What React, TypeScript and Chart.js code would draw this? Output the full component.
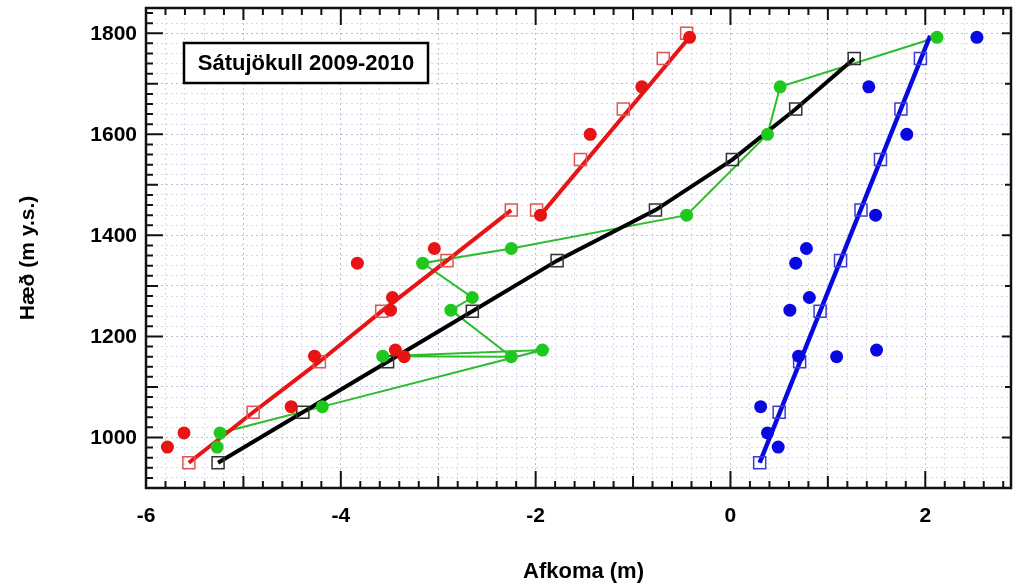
import React, { useEffect, useRef } from 'react';
import { Chart, registerables } from 'chart.js';

Chart.register(...registerables);

// Stake measurements (elevation m y.s.) and balances (m)
const stakeElev = [1792, 1694, 1600, 1440, 1374, 1345, 1277, 1252, 1160, 1161, 1173, 1061, 1009, 981];
const winterBal = [2.53, 1.42, 1.81, 1.49, 0.78, 0.67, 0.81, 0.61, 1.09, 0.70, 1.50, 0.31, 0.38, 0.49];
const summerBal = [-0.42, -0.91, -1.44, -1.95, -3.04, -3.83, -3.47, -3.49, -3.35, -4.27, -3.44, -4.51, -5.61, -5.78];
const netBal = [2.12, 0.51, 0.38, -0.45, -2.25, -3.16, -2.65, -2.87, -2.25, -3.57, -1.93, -4.19, -5.24, -5.27];

// 100 m band values (open squares)
const bandElev = [950, 1050, 1150, 1250, 1350, 1450, 1550, 1650, 1750];
const netBand = [-5.26, -4.39, -3.52, -2.65, -1.78, -0.77, 0.02, 0.67, 1.27];
const winterBand = [0.30, 0.50, 0.71, 0.92, 1.13, 1.34, 1.54, 1.75, 1.95];
const summerLowElev = [950, 1050, 1150, 1250, 1350, 1450];
const summerLow = [-5.56, -4.90, -4.22, -3.58, -2.91, -2.25];
const summerHighElev = [1450, 1550, 1650, 1750, 1800];
const summerHigh = [-1.99, -1.54, -1.10, -0.69, -0.45];

// Fitted lines
const winterFitElev = [950, 1795];
const winterFit = [0.30, 2.05];
const summerFitElev = [1440, 1792];
const summerFit = [-1.95, -0.42];

const xTickValues = [-6, -4, -2, 0, 2];
const yTickValues = [1000, 1200, 1400, 1600, 1800];

const TITLE = 'Sátujökull 2009-2010';
const X_TITLE = 'Afkoma (m)';
const Y_TITLE = 'Hæð (m y.s.)';

const RED = '#e81414';
const RED_SQ = '#e05656';
const GREEN = '#1ec81e';
const GREEN_LINE = '#2cbc2c';
const BLUE = '#0808e0';
const BLACK = '#000000';

const FONT = "'Liberation Sans', Arial, Helvetica, sans-serif";

const pts = (xs: number[], ys: number[]) => xs.map((x, i) => ({ x, y: ys[i] }));

const framePlugin = {
  id: 'frameTicks',
  afterDraw(chart: any) {
    const { ctx, chartArea: a, scales } = chart;
    const xs = scales.x;
    const ys = scales.y;
    ctx.save();
    ctx.strokeStyle = '#111';
    ctx.lineWidth = 2;
    ctx.beginPath();
    for (let i = -30; i <= 14; i++) {
      const v = i / 5;
      const px = xs.getPixelForValue(v);
      const len = i % 10 === 0 ? 17 : i % 5 === 0 ? 12 : 7;
      ctx.moveTo(px, a.bottom);
      ctx.lineTo(px, a.bottom - len);
      ctx.moveTo(px, a.top);
      ctx.lineTo(px, a.top + len);
    }
    for (let h = 900; h <= 1850; h += 20) {
      const py = ys.getPixelForValue(h);
      const len = h % 200 === 0 ? 17 : h % 100 === 0 ? 12 : 7;
      ctx.moveTo(a.left, py);
      ctx.lineTo(a.left + len, py);
      if (h % 100 === 0) {
        const rl = h % 200 === 0 ? 9 : 6;
        ctx.moveTo(a.right, py);
        ctx.lineTo(a.right - rl, py);
      }
    }
    ctx.stroke();
    ctx.lineWidth = 2.5;
    ctx.strokeRect(a.left, a.top, a.right - a.left, a.bottom - a.top);

    // tick labels
    ctx.fillStyle = '#000';
    ctx.font = `bold 21px ${FONT}`;
    ctx.textAlign = 'center';
    ctx.textBaseline = 'middle';
    xTickValues.forEach((v) => {
      ctx.fillText(String(v), xs.getPixelForValue(v), a.bottom + 28);
    });
    ctx.textAlign = 'right';
    yTickValues.forEach((v) => {
      ctx.fillText(String(v), a.left - 9, ys.getPixelForValue(v) + 1);
    });

    // title box
    const bx = a.left + 38;
    const by = a.top + 35;
    const bw = 244;
    const bh = 40;
    ctx.fillStyle = '#ffffff';
    ctx.fillRect(bx, by, bw, bh);
    ctx.lineWidth = 2.5;
    ctx.strokeStyle = '#000';
    ctx.strokeRect(bx, by, bw, bh);
    ctx.fillStyle = '#000';
    ctx.font = `bold 22px ${FONT}`;
    ctx.textAlign = 'center';
    ctx.textBaseline = 'middle';
    ctx.fillText(TITLE, bx + bw / 2, by + bh / 2 + 1);

    // axis titles
    ctx.font = `bold 22px ${FONT}`;
    ctx.fillText(X_TITLE, (a.left + a.right) / 2 + 5, 572);
    ctx.translate(28, 258);
    ctx.rotate(-Math.PI / 2);
    ctx.font = `bold 21px ${FONT}`;
    ctx.fillText(Y_TITLE, 0, 0);
    ctx.restore();
  },
};

export default function App() {
  const ref = useRef<HTMLCanvasElement | null>(null);

  useEffect(() => {
    if (!ref.current) return;
    const gridColor = (major: boolean) => (major ? 'rgba(120,120,185,0.5)' : 'rgba(170,170,215,0.45)');
    const chart = new Chart(ref.current, {
      type: 'scatter',
      data: {
        datasets: [
          {
            label: 'net-line',
            data: pts(netBal, stakeElev),
            showLine: true,
            borderColor: GREEN_LINE,
            borderWidth: 2,
            pointRadius: 0,
            order: 9,
          },
          {
            label: 'net-band',
            data: pts(netBand, bandElev),
            showLine: true,
            borderColor: BLACK,
            borderWidth: 4,
            pointStyle: 'rect',
            pointRadius: 8.5,
            pointBorderColor: '#333',
            pointBorderWidth: 1.5,
            pointBackgroundColor: 'rgba(0,0,0,0)',
            order: 8,
          },
          {
            label: 'summer-low',
            data: pts(summerLow, summerLowElev),
            showLine: true,
            borderColor: RED,
            borderWidth: 4,
            pointStyle: 'rect',
            pointRadius: 8.5,
            pointBorderColor: RED_SQ,
            pointBorderWidth: 1.5,
            pointBackgroundColor: 'rgba(0,0,0,0)',
            order: 7,
          },
          {
            label: 'summer-fit',
            data: pts(summerFit, summerFitElev),
            showLine: true,
            borderColor: RED,
            borderWidth: 4,
            pointRadius: 0,
            order: 7,
          },
          {
            label: 'summer-high',
            data: pts(summerHigh, summerHighElev),
            showLine: false,
            pointStyle: 'rect',
            pointRadius: 8.5,
            pointBorderColor: RED_SQ,
            pointBorderWidth: 1.5,
            pointBackgroundColor: 'rgba(0,0,0,0)',
            order: 6,
          },
          {
            label: 'winter-fit',
            data: pts(winterFit, winterFitElev),
            showLine: true,
            borderColor: BLUE,
            borderWidth: 4.5,
            pointRadius: 0,
            order: 5,
          },
          {
            label: 'winter-band',
            data: pts(winterBand, bandElev),
            showLine: false,
            pointStyle: 'rect',
            pointRadius: 8.5,
            pointBorderColor: '#3b3bd6',
            pointBorderWidth: 1.5,
            pointBackgroundColor: 'rgba(0,0,0,0)',
            order: 4,
          },
          {
            label: 'net',
            data: pts(netBal, stakeElev),
            showLine: false,
            pointRadius: 6.5,
            pointBackgroundColor: GREEN,
            pointBorderColor: GREEN,
            pointBorderWidth: 0,
            order: 3,
          },
          {
            label: 'summer',
            data: pts(summerBal, stakeElev),
            showLine: false,
            pointRadius: 6.5,
            pointBackgroundColor: RED,
            pointBorderColor: RED,
            pointBorderWidth: 0,
            order: 2,
          },
          {
            label: 'winter',
            data: pts(winterBal, stakeElev),
            showLine: false,
            pointRadius: 6.5,
            pointBackgroundColor: BLUE,
            pointBorderColor: BLUE,
            pointBorderWidth: 0,
            order: 1,
          },
        ],
      },
      options: {
        animation: false,
        responsive: false,
        devicePixelRatio: 1,
        layout: { autoPadding: false, padding: { top: 8, right: 2, left: 0, bottom: 0 } },
        plugins: {
          legend: { display: false },
          tooltip: { enabled: false },
          title: { display: false },
        },
        scales: {
          x: {
            type: 'linear',
            min: -6,
            max: 2.88,
            afterFit: (s: any) => {
              s.height = 99;
            },
            ticks: {
              display: false,
              stepSize: 0.2,
              autoSkip: false,
            },
            grid: {
              drawTicks: false,
              lineWidth: 1,
              color: (c: any) => {
                const v = c.tick ? c.tick.value : 0;
                return gridColor(Math.abs(v - Math.round(v)) < 1e-6);
              },
            },
            border: { display: false, dash: [2, 3] },
          },
          y: {
            type: 'linear',
            min: 900,
            max: 1850,
            afterFit: (s: any) => {
              s.width = 146;
            },
            ticks: {
              display: false,
              stepSize: 20,
              autoSkip: false,
            },
            grid: {
              drawTicks: false,
              lineWidth: 1,
              color: (c: any) => {
                const v = c.tick ? Math.round(c.tick.value) : 0;
                return gridColor(v % 100 === 0);
              },
            },
            border: { display: false, dash: [2, 3] },
          },
        },
      } as any,
      plugins: [framePlugin],
    });
    return () => chart.destroy();
  }, []);

  return (
    <div style={{ position: 'absolute', left: 0, top: 0, width: 1013, height: 587, background: '#fff' }}>
      <canvas ref={ref} width={1013} height={587} />
    </div>
  );
}
